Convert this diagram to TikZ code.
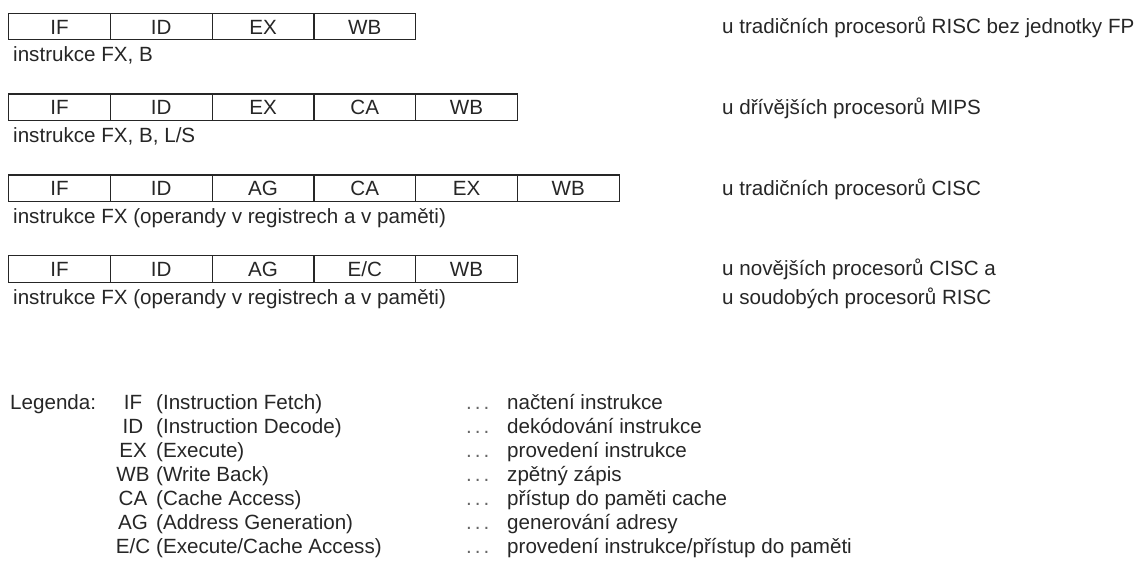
\documentclass[tikz,border=0pt]{standalone}
\usepackage{fontspec}
\setmainfont{Liberation Sans}
\begin{document}
\begin{tikzpicture}[x=1pt,y=-1pt,
  every node/.style={inner sep=0pt, font=\fontsize{20.6}{25}\selectfont, text=black!85},
  stagebox/.style={draw=black!85, line width=1.3pt, minimum width=101.75pt,
    minimum height=26.5pt, text height=15pt, text depth=0pt, anchor=north west},
  txt/.style={anchor=base west},
  abbr/.style={anchor=base},
  dots/.style={anchor=base west, text=black!60},
]
\useasboundingbox (0,0) rectangle (1141,561);

% pipeline rows: stages, instruction class below, processor family on the right
\foreach \lab [count=\i from 0] in {IF,ID,EX,WB}
  \node[stagebox] (a\i) at ({8+101.75*\i},12.7) {\lab};
\node[txt] (la) at (13,61.7) {instrukce FX, B};
\node[txt] (ra) at (722,33.5) {u tradičních procesorů RISC bez jednotky FP};

\foreach \lab [count=\i from 0] in {IF,ID,EX,CA,WB}
  \node[stagebox] (b\i) at ({8+101.75*\i},93.5) {\lab};
\node[txt] (lb) at (13,142.5) {instrukce FX, B, L/S};
\node[txt] (rb) at (722,114.3) {u dřívějších procesorů MIPS};

\foreach \lab [count=\i from 0] in {IF,ID,AG,CA,EX,WB}
  \node[stagebox] (c\i) at ({8+101.75*\i},174.3) {\lab};
\node[txt] (lc) at (13,223.3) {instrukce FX (operandy v registrech a v paměti)};
\node[txt] (rc) at (722,195.1) {u tradičních procesorů CISC};

\foreach \lab [count=\i from 0] in {IF,ID,AG,E/C,WB}
  \node[stagebox] (d\i) at ({8+101.75*\i},255.2) {\lab};
\node[txt] (ld) at (13,304.2) {instrukce FX (operandy v registrech a v paměti)};
\node[txt] (rd1) at (722,276) {u novějších procesorů CISC a};
\node[txt] (rd2) at (722,304.2) {u soudobých procesorů RISC};

% legend: abbreviation, English name, dots, Czech meaning
\node[txt] (leg) at (10,409.5) {Legenda:};
\foreach \ab/\en/\cz [count=\k from 0] in {
    IF/(Instruction Fetch)/načtení instrukce,
    ID/(Instruction Decode)/dekódování instrukce,
    EX/(Execute)/provedení instrukce,
    WB/(Write Back)/zpětný zápis,
    CA/(Cache Access)/přístup do paměti cache,
    AG/(Address Generation)/generování adresy,
    E\slash C/(Execute\slash Cache Access)/provedení instrukce\slash přístup do paměti} {
  \node[abbr] (ab\k) at (133,{409.5+24*\k}) {\ab};
  \node[txt] (en\k) at (156,{409.5+24*\k}) {\en};
  \node[dots] (dt\k) at (466,{409.5+24*\k}) {.\hspace{3pt}.\hspace{3pt}.};
  \node[txt] (cz\k) at (507,{409.5+24*\k}) {\cz};
}
\end{tikzpicture}
\end{document}
